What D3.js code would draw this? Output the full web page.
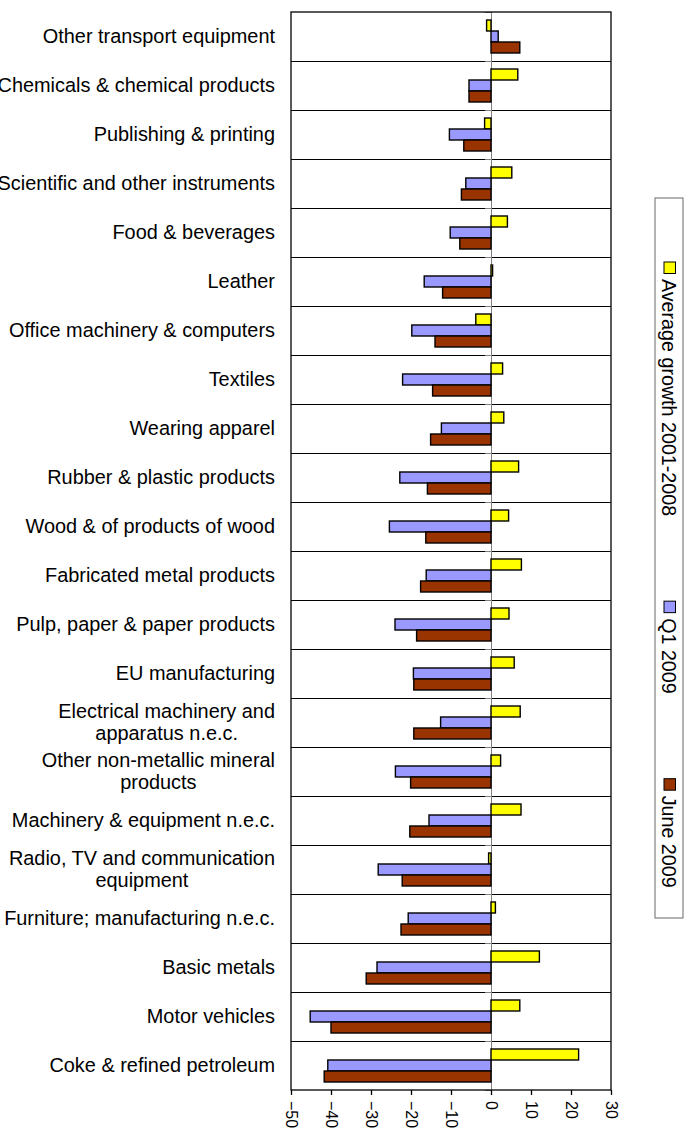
<!DOCTYPE html>
<html>
<head>
<meta charset="utf-8">
<script src="https://cdn.jsdelivr.net/npm/d3@7"></script>
<style>
  html, body { margin: 0; padding: 0; background: #fff; }
  svg { display: block; font-family: "Liberation Sans", Arial, sans-serif; }
</style>
</head>
<body>
<svg id="chart" width="693" height="1136"></svg>
<script>
// Industrial production change by sector, %
const categories = [
  "Other transport equipment",
  "Chemicals & chemical products",
  "Publishing & printing",
  "Scientific and other instruments",
  "Food & beverages",
  "Leather",
  "Office machinery & computers",
  "Textiles",
  "Wearing apparel",
  "Rubber & plastic products",
  "Wood & of products of wood",
  "Fabricated metal products",
  "Pulp, paper & paper products",
  "EU manufacturing",
  "Electrical machinery and\napparatus n.e.c.",
  "Other non-metallic mineral\nproducts",
  "Machinery & equipment n.e.c.",
  "Radio, TV and communication\nequipment",
  "Furniture; manufacturing n.e.c.",
  "Basic metals",
  "Motor vehicles",
  "Coke & refined petroleum"
];

const seriesNames = ["Average growth 2001-2008", "Q1 2009", "June 2009"];

const avgGrowth = [-1.1, 6.7, -1.6, 5.2, 4.1, 0.4, -3.8, 2.9, 3.2, 6.9, 4.4, 7.6,
                   4.5, 5.8, 7.3, 2.4, 7.5, -0.6, 1.1, 12.1, 7.2, 21.9];
const q1_2009   = [1.8, -5.5, -10.4, -6.3, -10.2, -16.7, -19.8, -22.1, -12.4, -22.8, -25.4, -16.2,
                   -24.0, -19.4, -12.6, -23.9, -15.5, -28.2, -20.7, -28.5, -45.2, -40.8];
const june_2009 = [7.2, -5.5, -6.8, -7.4, -7.8, -12.1, -14.0, -14.6, -15.1, -15.9, -16.3, -17.6,
                   -18.6, -19.3, -19.3, -20.1, -20.3, -22.2, -22.5, -31.2, -40.0, -41.7];

const seriesValues = [avgGrowth, q1_2009, june_2009];
const seriesColors = ["#FFFF00", "#9999FF", "#993300"];

const xTicks = [-50, -40, -30, -20, -10, 0, 10, 20, 30];

const plot = { left: 291, right: 611, top: 12, bottom: 1090 };
const svg = d3.select("#chart");

const x = d3.scaleLinear().domain([-50, 30]).range([plot.left, plot.right]);
const y = d3.scaleBand().domain(categories).range([plot.top, plot.bottom]).paddingInner(0).paddingOuter(0);
const ySub = d3.scaleBand().domain(seriesNames).range([0, y.bandwidth()]).paddingInner(0).paddingOuter(0.727);

// Category separators
const boundaries = d3.range(categories.length + 1).map(i => plot.top + i * y.step());
svg.append("g").selectAll("line").data(boundaries.slice(1, -1)).join("line")
  .attr("x1", plot.left).attr("x2", plot.right)
  .attr("y1", d => d).attr("y2", d => d)
  .attr("stroke", "#000").attr("stroke-width", 1).attr("shape-rendering", "crispEdges");

// Vertical axis at zero with its tick marks
svg.append("line")
  .attr("x1", x(0)).attr("x2", x(0)).attr("y1", plot.top).attr("y2", plot.bottom)
  .attr("stroke", "#808080").attr("stroke-width", 1).attr("shape-rendering", "crispEdges");
svg.append("g").selectAll("line").data(boundaries).join("line")
  .attr("x1", x(0) - 6).attr("x2", x(0))
  .attr("y1", d => d).attr("y2", d => d)
  .attr("stroke", "#808080").attr("stroke-width", 1).attr("shape-rendering", "crispEdges");

// Bars
const rows = categories.map((c, i) => ({ c, i }));
const groups = svg.append("g").selectAll("g").data(rows).join("g")
  .attr("transform", d => `translate(0,${y(d.c)})`);
groups.selectAll("rect")
  .data(d => seriesNames.map((s, k) => ({ s, k, v: seriesValues[k][d.i] })))
  .join("rect")
  .attr("x", d => x(Math.min(0, d.v)))
  .attr("width", d => Math.abs(x(d.v) - x(0)))
  .attr("y", d => ySub(d.s))
  .attr("height", ySub.bandwidth())
  .attr("fill", d => seriesColors[d.k])
  .attr("stroke", "#000").attr("stroke-width", 1.4);

// Plot frame
svg.append("rect")
  .attr("x", plot.left).attr("y", plot.top)
  .attr("width", plot.right - plot.left).attr("height", plot.bottom - plot.top)
  .attr("fill", "none").attr("stroke", "#000").attr("stroke-width", 1.3);

// Bottom value axis
const xAxis = svg.append("g")
  .attr("transform", `translate(0,${plot.bottom})`)
  .call(d3.axisBottom(x).tickValues(xTicks).tickSize(5).tickSizeOuter(0).tickFormat(d3.format("d")));
xAxis.select(".domain").remove();
xAxis.selectAll(".tick line").attr("stroke", "#000").attr("stroke-width", 1.3);
xAxis.selectAll(".tick text")
  .attr("font-size", 16).attr("fill", "#000")
  .attr("text-anchor", "start")
  .attr("dy", null)
  .attr("transform", "translate(-5.5,11) rotate(90)")
  .attr("x", 0).attr("y", 0);

// Category labels, right-aligned; wrapped labels centred within their block
const labelRight = 275;
const labelSize = 19.9;
const lineGap = 22.3;
const labels = svg.append("g").attr("font-size", labelSize).attr("fill", "#000");
categories.forEach(c => {
  const lines = c.split("\n");
  const cy = y(c) + y.bandwidth() / 2;
  const t = labels.append("text").attr("text-anchor", "middle");
  lines.forEach((ln, j) => {
    t.append("tspan")
      .attr("y", cy + 6.8 + (j - (lines.length - 1) / 2) * lineGap)
      .text(ln);
  });
  let w = 0;
  t.selectAll("tspan").each(function () { w = Math.max(w, this.getComputedTextLength()); });
  t.selectAll("tspan").attr("x", labelRight - w / 2);
});

// Legend, drawn vertically
const legend = { left: 655, right: 683, top: 198, bottom: 918 };
svg.append("rect")
  .attr("x", legend.left).attr("y", legend.top)
  .attr("width", legend.right - legend.left).attr("height", legend.bottom - legend.top)
  .attr("fill", "#fff").attr("stroke", "#808080").attr("stroke-width", 1.2);

let ly = 262;
seriesNames.forEach((s, k) => {
  svg.append("rect")
    .attr("x", 664).attr("y", ly).attr("width", 11.5).attr("height", 11.5)
    .attr("fill", seriesColors[k]).attr("stroke", "#000").attr("stroke-width", 1);
  const t = svg.append("text")
    .attr("font-size", 19.7).attr("fill", "#000")
    .attr("transform", `translate(662,${ly + 17}) rotate(90)`)
    .text(s);
  ly = ly + 17 + t.node().getComputedTextLength() + 85;
});
</script>
</body>
</html>
